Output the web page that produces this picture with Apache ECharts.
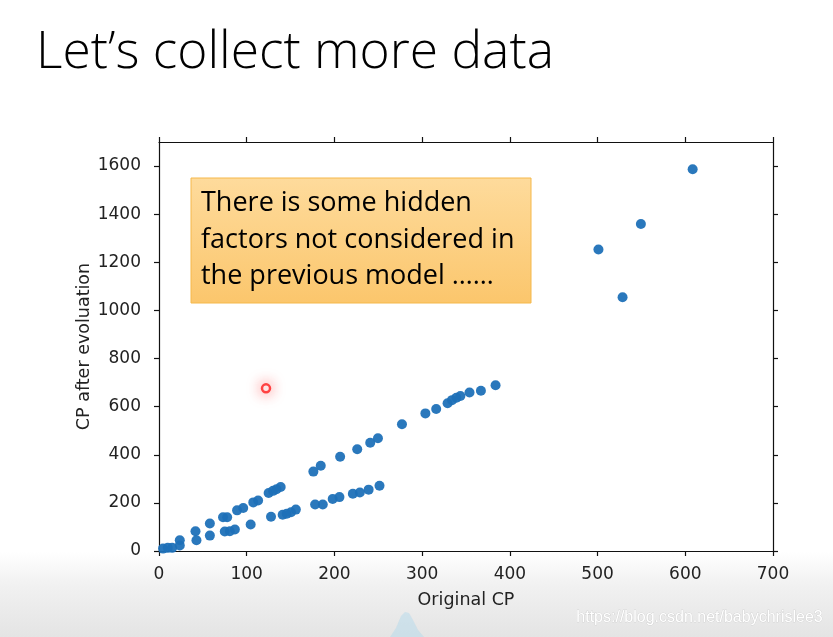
<!DOCTYPE html>
<html><head><meta charset="utf-8">
<script src="https://cdn.jsdelivr.net/npm/echarts@6/dist/echarts.min.js"></script>
<style>
html,body{margin:0;padding:0;}
body{width:833px;height:637px;background:linear-gradient(to bottom,#ffffff 0px,#ffffff 552px,#f1f1f1 585px,#e4e4e4 637px);}
#c{width:833px;height:637px;}
</style></head><body><div id="c"></div>
<script>
var originalCP = [4.6,10,15,23.7,23.7,41.6,42.7,58,58,73,77.7,75,80.8,86.5,89,96,104.5,107.5,113,125,130,134,138.7,127.7,141,145.6,150.5,156,176,184.4,178,186.7,198,205.7,206.5,226,240.8,249.6,221,229,239,251.4,277,303.7,316,329,334,339,343.6,354,367,383.7,608.4,549.4,501,528.5];
var cpAfter = [10,13,13,45,23,82,45,114,64,140,140,81,82,89,169,179,110,202,210,241,250,257,266,142,151,155,161,172,330,354,193,193,216,224,392,423,450,469,238,243,255,271,527,572,590,614,627,637,644,659,666,689,1587,1359,1253,1055];
var highlightX = [122];
var highlightY = [676];
var xTicks = [0,100,200,300,400,500,600,700];
var yTicks = [0,200,400,600,800,1000,1200,1400,1600];
var titleText = "Let\u2019s collect more data";
var noteLines = ["There is some hidden","factors not considered in","the previous model \u2026\u2026"];
var watermark = "https://blog.csdn.net/babychrislee3";

var pts = originalCP.map(function(x,i){return [x,cpAfter[i]];});
var hl = highlightX.map(function(x,i){return [x,highlightY[i]];});
var axisFont = {fontFamily:'DejaVu Sans',fontSize:17,color:'#222'};
var nameFont = {fontFamily:'DejaVu Sans',fontSize:17.5,color:'#222'};
var chart = echarts.init(document.getElementById('c'));
var lineStyle = {color:'#111',width:1.2};
function plain(v){return String(v);}
function tickCfg(vals){return {show:true,inside:false,length:5,lineStyle:lineStyle,customValues:vals};}
chart.setOption({
  animation:false,
  grid:{left:159,right:60,top:142,bottom:86},
  xAxis:[{
    type:'value',min:0,max:700,interval:100,position:'bottom',
    axisLine:{show:true,onZero:false,lineStyle:lineStyle},
    axisTick:tickCfg(xTicks),
    axisLabel:Object.assign({margin:15,customValues:xTicks,formatter:plain},axisFont),
    splitLine:{show:false},
    name:'Original CP',nameLocation:'middle',nameGap:40,nameMoveOverlap:false,nameTextStyle:nameFont
  },{
    type:'value',min:0,max:700,interval:100,position:'top',
    axisLine:{show:true,onZero:false,lineStyle:lineStyle},
    axisTick:tickCfg(xTicks),
    axisLabel:{show:false},splitLine:{show:false}
  }],
  yAxis:[{
    type:'value',min:0,max:1700,interval:100,position:'left',
    axisLine:{show:true,onZero:false,lineStyle:lineStyle},
    axisTick:tickCfg(yTicks),
    axisLabel:Object.assign({margin:18,customValues:yTicks,formatter:plain},axisFont),
    splitLine:{show:false},
    name:'CP after evoluation',nameLocation:'middle',nameGap:66,nameMoveOverlap:false,nameTextStyle:nameFont
  },{
    type:'value',min:0,max:1700,interval:100,position:'right',
    axisLine:{show:true,onZero:false,lineStyle:lineStyle},
    axisTick:tickCfg(yTicks),
    axisLabel:{show:false},splitLine:{show:false}
  }],
  series:[{
    type:'scatter',data:pts,symbolSize:10,
    itemStyle:{color:'#1f71b8',opacity:0.95}
  },{
    type:'scatter',data:hl,symbolSize:8,z:5,
    itemStyle:{color:'#ffffff',borderColor:'#ff1a1a',borderWidth:2.5,shadowBlur:14,shadowColor:'rgba(255,60,60,0.8)'}
  }],
  graphic:[
    {type:'text',left:36,top:27,style:{text:titleText,fontFamily:'Open Sans',fontWeight:300,fontSize:51.5,fill:'#000'}},
    {type:'rect',shape:{x:191,y:178,width:340,height:125},
     style:{fill:new echarts.graphic.LinearGradient(0,0,0,1,[{offset:0,color:'#fedb9c'},{offset:1,color:'#fbc66c'}]),stroke:'#f5b84a',lineWidth:1}},
    {type:'text',x:201,y:203,style:{text:noteLines[0],fontFamily:'Open Sans',fontSize:27,fill:'#000',verticalAlign:'middle'}},
    {type:'text',x:201,y:240,style:{text:noteLines[1],fontFamily:'Open Sans',fontSize:27,fill:'#000',verticalAlign:'middle'}},
    {type:'text',x:201,y:276,style:{text:noteLines[2],fontFamily:'Open Sans',fontSize:27,fill:'#000',verticalAlign:'middle'}},
    {type:'polygon',silent:true,shape:{points:[[390,637],[396,628],[401,616],[405,612],[409,613],[413,620],[418,630],[424,637]]},style:{fill:'rgba(180,218,236,0.5)'}},
    {type:'text',right:10,top:609,style:{text:watermark,fontFamily:'Liberation Sans Narrow, Liberation Sans',fontSize:16,fill:'#ffffff',stroke:'#c8c8c8',lineWidth:0.6}}
  ]
});
</script></body></html>
